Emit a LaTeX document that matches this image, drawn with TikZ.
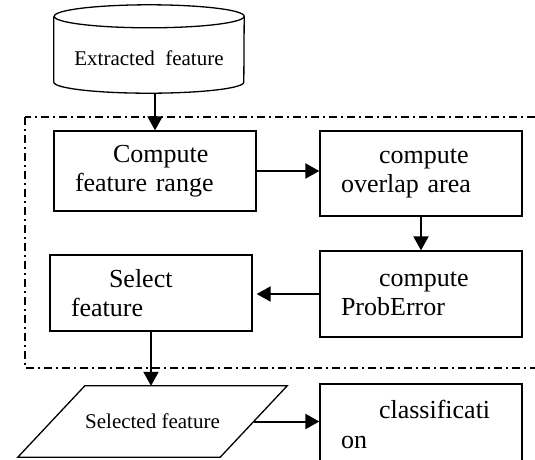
\documentclass[tikz,border=0pt]{standalone}
\usepackage{fontspec}
\setmainfont{Liberation Serif}
\usetikzlibrary{arrows.meta}
\tikzset{
  box/.style={draw, line width=1.3pt, rectangle, text width=160pt, inner xsep=21pt,
    inner ysep=0pt, align=left, font=\fontsize{26}{29.5}\selectfont},
  arr/.style={line width=2pt, -{Triangle[length=14pt,width=15pt]}},
}
\begin{document}
\begin{tikzpicture}[x=1pt, y=-1pt]
  \clip (0,0) rectangle (535,459);

  % input data (cylinder drawn round the node)
  \node[minimum width=190pt, minimum height=88pt, inner sep=0pt,
    font=\fontsize{21}{24}\selectfont] (ext) at (149,49)
    {\raisebox{-16pt}[0pt][0pt]{Extracted\hspace{0.5em}feature}};
  \draw[line width=1.3pt] ([yshift=-11.5pt]ext.north east)
    arc[start angle=0, end angle=360, x radius=95pt, y radius=11.5pt];
  \draw[line width=1.3pt] ([yshift=-11.5pt]ext.north west) -- ([yshift=11pt]ext.south west)
    arc[start angle=180, end angle=360, x radius=95pt, y radius=11pt]
    -- ([yshift=-11.5pt]ext.north east);

  % frame round the selection steps
  \draw[line width=1.5pt, dash pattern=on 8pt off 4pt on 2pt off 4pt] (25,117) rectangle (560,368);

  \node[box, minimum height=80pt] (comp) at (155,171) {\hspace*{38pt}Compute\\feature range};
  \node[box, minimum height=85pt] (ov) at (421,173.5) {\hspace*{38pt}compute\\overlap area};
  \node[box, minimum height=86pt] (pe) at (421,294) {\hspace*{38pt}compute\\ProbError};
  \node[box, minimum height=76pt] (sel) at (151,293) {\hspace*{38pt}Select\\feature};

  % output data (parallelogram drawn round the node)
  \node[minimum width=135pt, minimum height=71pt, inner sep=0pt,
    font=\fontsize{21}{24}\selectfont] (out) at (152.5,421.5) {Selected feature};
  \draw[line width=1.3pt] (out.north west) -- ([xshift=67pt]out.north east)
    -- (out.south east) -- ([xshift=-67pt]out.south west) -- cycle;
  \node[box, minimum height=81pt] (cls) at (421,424.5) {\hspace*{38pt}classificati\\on};

  \draw[arr] (comp.north |- ext.south) -- (comp.north);
  \draw[arr] (comp.east) -- (comp.east -| ov.west);
  \draw[arr] (ov.south) -- (pe.north);
  \draw[arr] (pe.west) -- ([xshift=4pt]pe.west -| sel.east);
  \draw[arr] (sel.south) -- (sel.south |- out.north);
  \draw[arr] ([xshift=33.5pt]out.east) -- (out.east -| cls.west);

\end{tikzpicture}
\end{document}
